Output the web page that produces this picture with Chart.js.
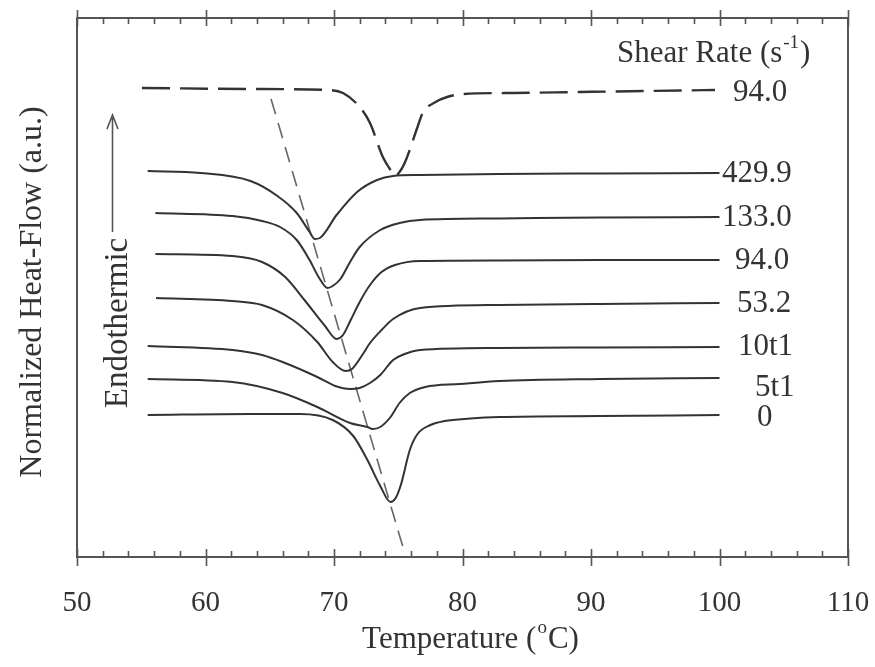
<!DOCTYPE html>
<html>
<head>
<meta charset="utf-8">
<script src="https://cdn.jsdelivr.net/npm/chart.js@4/dist/chart.umd.min.js"></script>
<style>
  body { margin: 0; background: #fff; }
  canvas { display: block; }
</style>
</head>
<body>
<canvas id="dscChart" width="875" height="667"></canvas>
<script>
// Temperature (°C) and normalized heat-flow (a.u.) per trace
const tDashed = [55.06, 63.5, 69.5, 70.7, 72.0, 72.8, 73.8, 74.4, 74.75, 75.1, 75.5, 76.5, 76.9, 77.9, 78.8, 80.0, 83.9, 89.1, 99.65];
const hDashed = [46.9, 46.8, 46.7, 46.4, 45.0, 43.4, 40.0, 38.7, 38.1, 38.5, 39.4, 43.0, 44.4, 45.5, 46.0, 46.3, 46.4, 46.5, 46.7];

const t4299 = [55.5, 59.6, 63.5, 65.6, 67.1, 68.1, 68.5, 68.9, 70.2, 71.8, 73.35, 74.6, 76.7, 82.9, 90.7, 100];
const h4299 = [38.6, 38.4, 37.6, 36.1, 34.4, 32.5, 31.8, 31.9, 34.2, 36.5, 37.7, 38.1, 38.2, 38.3, 38.35, 38.4];

const t1330 = [56.1, 62.1, 64.4, 65.8, 67.1, 68.1, 68.8, 69.5, 69.9, 70.5, 71.25, 72.0, 73.6, 75.1, 76.7, 82.9, 90.7, 100];
const h1330 = [34.4, 34.1, 33.6, 33.0, 31.7, 29.7, 28.0, 26.9, 27.1, 27.8, 29.5, 31.0, 32.7, 33.4, 33.7, 33.85, 33.95, 34.0];

const t940 = [56.1, 62.1, 64.4, 66.2, 67.7, 69.3, 70.2, 70.7, 71.3, 72.0, 72.8, 73.7, 74.75, 76.7, 82.9, 90.7, 100];
const h940 = [30.3, 30.1, 29.5, 28.0, 25.7, 23.1, 21.8, 22.2, 23.7, 25.5, 27.2, 28.5, 29.2, 29.6, 29.65, 29.7, 29.7];

const t532 = [56.15, 62.1, 64.4, 66.8, 68.7, 69.9, 70.9, 71.4, 72.2, 72.8, 73.7, 74.6, 76.7, 82.9, 90.7, 100];
const h532 = [25.9, 25.6, 25.2, 23.7, 21.5, 19.5, 18.6, 18.8, 20.2, 21.4, 22.7, 23.8, 24.9, 25.2, 25.3, 25.4];

const t10 = [55.5, 62.1, 64.4, 66.0, 68.7, 70.1, 71.25, 72.0, 72.8, 73.6, 74.6, 75.5, 76.7, 82.9, 90.7, 100];
const h10 = [21.1, 20.7, 20.2, 19.5, 18.0, 17.1, 16.8, 16.9, 17.4, 18.2, 19.7, 20.3, 20.7, 20.9, 20.95, 21.0];

const t5 = [55.5, 62.1, 66.0, 68.7, 71.25, 72.6, 73.0, 73.6, 74.4, 75.1, 75.9, 77.1, 79.8, 82.9, 90.7, 100];
const h5 = [17.8, 17.5, 16.4, 15.0, 13.4, 13.0, 12.8, 13.0, 14.0, 15.4, 16.4, 17.0, 17.3, 17.6, 17.8, 17.9];

const t0 = [55.5, 63.5, 67.35, 69.9, 71.5, 72.6, 73.6, 74.4, 74.8, 75.2, 75.9, 76.5, 77.5, 78.6, 80.6, 82.9, 90.7, 100];
const h0 = [14.2, 14.3, 14.3, 13.7, 12.1, 9.7, 7.1, 5.5, 5.9, 7.2, 10.7, 12.3, 13.2, 13.6, 13.85, 14.0, 14.1, 14.2];

// dashed guide through the peak minima
const tGuide = [65.1, 75.5];
const hGuide = [45.8, 0.4];

const shearLabels = ['94.0', '429.9', '133.0', '94.0', '53.2', '10t1', '5t1', '0'];
const xTicks = [50, 60, 70, 80, 90, 100, 110];

const pts = (t, h) => t.map((v, i) => ({ x: v, y: h[i] }));
const SERIF = '"Liberation Serif", "Times New Roman", serif';
const INK = '#333';

function trace(t, h, extra) {
  return Object.assign({
    data: pts(t, h),
    borderColor: '#333',
    borderWidth: 2,
    pointRadius: 0,
    fill: false,
    cubicInterpolationMode: 'monotone',
  }, extra || {});
}

// label placement (left x in px, y shift from the line end)
const labelPos = [[733, 3], [722, 1], [722, 1], [735, 1], [737, 1], [738, 0], [755, 10], [757, 3]];

const decor = {
  id: 'decor',
  afterDraw(chart) {
    const { ctx, chartArea: a, scales: { x } } = chart;
    ctx.save();
    // frame + ticks
    ctx.strokeStyle = '#555';
    ctx.lineWidth = 2;
    ctx.strokeRect(a.left, a.top, a.right - a.left, a.bottom - a.top);
    ctx.lineWidth = 1.6;
    for (let t = 50; t <= 110; t += 2) {
      const px = Math.round(x.getPixelForValue(t)) + 0.5;
      const major = t % 10 === 0;
      ctx.beginPath();
      ctx.moveTo(px, a.bottom + (major ? 9 : 0));
      ctx.lineTo(px, a.bottom - (major ? 8 : 6));
      ctx.moveTo(px, a.top - (major ? 8 : 0));
      ctx.lineTo(px, a.top + (major ? 8 : 6));
      ctx.stroke();
    }

    ctx.fillStyle = INK;

    // series labels at line ends
    ctx.font = '31px ' + SERIF;
    ctx.textAlign = 'left';
    ctx.textBaseline = 'middle';
    shearLabels.forEach((lab, i) => {
      const meta = chart.getDatasetMeta(i);
      const last = meta.data[meta.data.length - 1];
      ctx.fillText(lab, labelPos[i][0], last.y + labelPos[i][1]);
    });
    ctx.textBaseline = 'alphabetic';

    // legend heading with superscript
    let cx = 617;
    ctx.font = '31px ' + SERIF;
    ctx.fillText('Shear Rate (s', cx, 62);
    cx += ctx.measureText('Shear Rate (s').width + 1;
    ctx.font = '19px ' + SERIF;
    ctx.fillText('-1', cx, 48);
    cx += ctx.measureText('-1').width + 1;
    ctx.font = '31px ' + SERIF;
    ctx.fillText(')', cx, 62);

    // x axis title
    const p1 = 'Temperature (', p2 = 'o', p3 = 'C)';
    ctx.font = '31px ' + SERIF;
    const w1 = ctx.measureText(p1).width, w3 = ctx.measureText(p3).width;
    ctx.font = '19px ' + SERIF;
    const w2 = ctx.measureText(p2).width;
    let tx = (a.left + a.right) / 2 + 8 - (w1 + w2 + w3 + 2) / 2;
    ctx.font = '31px ' + SERIF;
    ctx.fillText(p1, tx, 648);
    tx += w1 + 1;
    ctx.font = '19px ' + SERIF;
    ctx.fillText(p2, tx, 633);
    tx += w2 + 1;
    ctx.font = '31px ' + SERIF;
    ctx.fillText(p3, tx, 648);

    // y axis title
    ctx.save();
    ctx.translate(41, 292);
    ctx.rotate(-Math.PI / 2);
    ctx.textAlign = 'center';
    ctx.font = '32px ' + SERIF;
    ctx.fillText('Normalized Heat-Flow (a.u.)', 0, 0);
    ctx.restore();

    // endothermic arrow
    ctx.save();
    ctx.translate(127, 323);
    ctx.rotate(-Math.PI / 2);
    ctx.textAlign = 'center';
    ctx.font = '33px ' + SERIF;
    ctx.fillText('Endothermic', 0, 0);
    ctx.restore();
    ctx.strokeStyle = '#555';
    ctx.lineWidth = 1.6;
    ctx.beginPath();
    ctx.moveTo(112.5, 232);
    ctx.lineTo(112.5, 115);
    ctx.moveTo(107, 129);
    ctx.lineTo(112.5, 115);
    ctx.lineTo(118, 129);
    ctx.stroke();
    ctx.restore();
  }
};

new Chart(document.getElementById('dscChart').getContext('2d'), {
  type: 'line',
  data: {
    datasets: [
      trace(tDashed, hDashed, { borderDash: [28, 10], borderWidth: 2.4 }),
      trace(t4299, h4299),
      trace(t1330, h1330),
      trace(t940, h940),
      trace(t532, h532),
      trace(t10, h10),
      trace(t5, h5),
      trace(t0, h0),
      trace(tGuide, hGuide, { borderDash: [16, 9], borderWidth: 1.6, borderColor: '#666', cubicInterpolationMode: 'default', tension: 0 }),
    ],
  },
  options: {
    responsive: false,
    animation: false,
    devicePixelRatio: 1,
    layout: { padding: { left: 77, right: 27, top: 18, bottom: 0 } },
    plugins: { legend: { display: false }, tooltip: { enabled: false } },
    scales: {
      x: {
        type: 'linear',
        min: 50,
        max: 110,
        afterBuildTicks: (s) => { s.ticks = xTicks.map((v) => ({ value: v })); },
        afterFit: (s) => { s.height = 110; s.paddingLeft = 0; s.paddingRight = 0; },
        grid: { display: false, drawTicks: false },
        border: { display: false },
        ticks: {
          padding: 29,
          maxRotation: 0,
          autoSkip: false,
          color: INK,
          font: { family: SERIF, size: 29 },
        },
      },
      y: {
        type: 'linear',
        display: false,
        min: 0,
        max: 53.9,
      },
    },
  },
  plugins: [decor],
});
</script>
</body>
</html>
